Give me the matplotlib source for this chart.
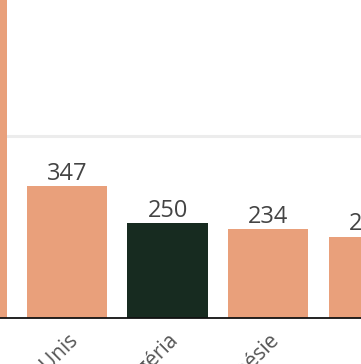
import matplotlib
matplotlib.use('Agg')
import matplotlib.pyplot as plt

# données
pays = ['Inde', 'États-Unis', 'Nigéria', 'Indonésie', 'Brésil']
valeurs = [1450, 347, 250, 234, 214]
couleurs = ['#e9a07b', '#e9a07b', '#172b20', '#e9a07b', '#e9a07b']
grille = [480]

plt.rcParams['font.family'] = ['Open Sans', 'DejaVu Sans']

fig = plt.figure(figsize=(3.61, 3.64), dpi=100)
ax = fig.add_axes([0, 46 / 364, 1, 318 / 364])

x = list(range(len(pays)))
barres = ax.bar(x, valeurs, width=0.8, color=couleurs, zorder=3)

for xi, v in zip(x, valeurs):
    ax.annotate(str(v), (xi, v), xytext=(0, 4.5), textcoords='offset points',
                ha='center', va='baseline', fontsize=17, color='#444444',
                annotation_clip=False)

ax.set_xticks(x)
ax.set_xticklabels(pays, rotation=45, ha='right', rotation_mode='anchor',
                   fontsize=15, color='#555555')
ax.tick_params(axis='x', length=0, pad=8)

ax.set_yticks(grille)
ax.yaxis.grid(True, color='#ececec', linewidth=2.2, zorder=0)
ax.tick_params(axis='y', length=0, labelleft=False)

ax.set_xlim(0.334, 3.922)
ax.set_ylim(0, 837)

for s in ['top', 'left', 'right']:
    ax.spines[s].set_visible(False)
ax.spines['bottom'].set_color('#111111')
ax.spines['bottom'].set_linewidth(1.3)
ax.spines['bottom'].set_zorder(4)

fig.savefig('out.png', dpi=100)
